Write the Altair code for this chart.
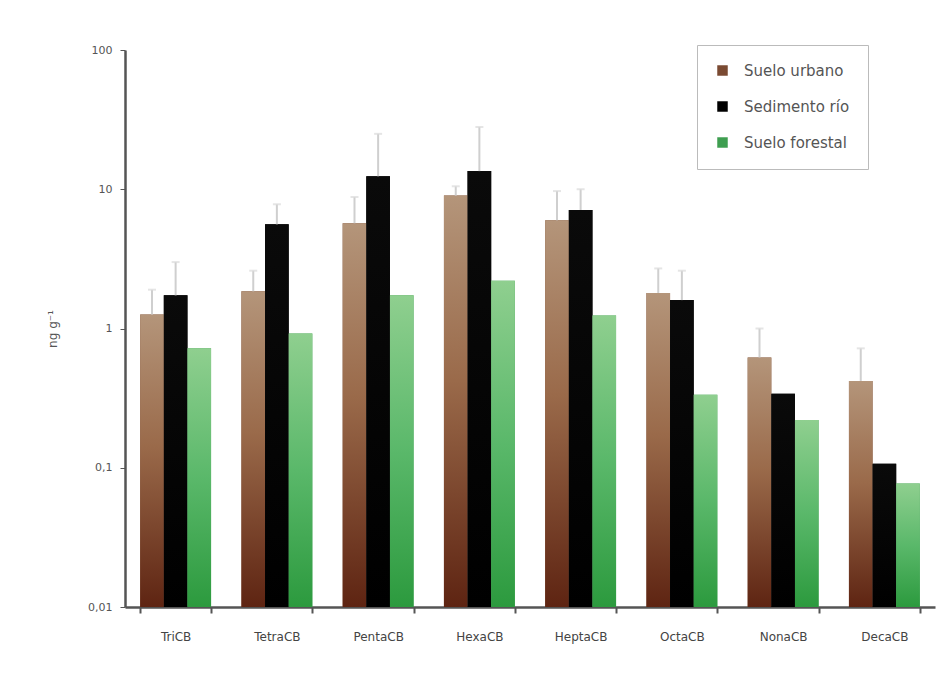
import altair as alt
import pandas as pd

categories = ["TriCB", "TetraCB", "PentaCB", "HexaCB", "HeptaCB", "OctaCB", "NonaCB", "DecaCB"]
series = ["Suelo urbano", "Sedimento río", "Suelo forestal"]
urbano = [1.26, 1.85, 5.7, 9.0, 6.0, 1.8, 0.62, 0.42]
urbano_err = [1.9, 2.6, 8.8, 10.5, 9.7, 2.7, 1.0, 0.72]
sedimento = [1.73, 5.6, 12.4, 13.5, 7.1, 1.6, 0.34, 0.107]
sedimento_err = [3.0, 7.8, 25.0, 28.0, 10.0, 2.6, 0.34, 0.107]
forestal = [0.72, 0.92, 1.73, 2.2, 1.24, 0.335, 0.22, 0.077]
forestal_err = [0.72, 0.92, 1.73, 2.2, 1.24, 0.335, 0.22, 0.077]

rows = []
for s, vals, errs in [(series[0], urbano, urbano_err), (series[1], sedimento, sedimento_err), (series[2], forestal, forestal_err)]:
    for c, v, e in zip(categories, vals, errs):
        rows.append({"cat": c, "serie": s, "valor": v, "err": e})
df = pd.DataFrame(rows)

x_enc = alt.X("cat:N", sort=categories, title=None,
              scale=alt.Scale(paddingInner=0.3, paddingOuter=0.15),
              axis=alt.Axis(labelAngle=0, tickBand="extent", labelPadding=18, tickSize=6,
                            labelFontSize=12, labelColor="#444", domainColor="#555",
                            domainWidth=2.5, tickColor="#555", tickWidth=2, grid=False))
xoff = alt.XOffset("serie:N", sort=series, scale=alt.Scale(domain=series))
y_enc = alt.Y("valor:Q", title="ng g⁻¹",
              scale=alt.Scale(type="log", domain=[0.01, 100]),
              axis=alt.Axis(values=[0.01, 0.1, 1, 10, 100], grid=False,
                            labelExpr="replace(format(datum.value, '~g'), '.', ',')",
                            labelFontSize=11, labelColor="#555", titleFontSize=12,
                            titleColor="#555", titleFontWeight="normal", titlePadding=28,
                            domainColor="#555", domainWidth=2.5, tickColor="#555",
                            tickSize=5, labelPadding=8))
y2_base = alt.Y2(datum=0.01)

base = alt.Chart(df)

solid = base.mark_bar().encode(
    x=x_enc, xOffset=xoff, y=y_enc, y2=y2_base,
    color=alt.Color("serie:N", sort=series,
                    scale=alt.Scale(domain=series, range=["#7a4a32", "#000000", "#3e9e50"]),
                    legend=alt.Legend(title=None, orient="none", legendX=572, legendY=-5,
                                      symbolType="square", symbolSize=110,
                                      labelFontSize=15, labelColor="#555",
                                      rowPadding=20, padding=18, strokeColor="#bbb",
                                      fillColor="white", labelOffset=14))
)

grad_brown = alt.Gradient(gradient="linear", x1=0, x2=0, y1=0, y2=1,
                          stops=[alt.GradientStop(color="#b4957a", offset=0),
                                 alt.GradientStop(color="#9a6a4a", offset=0.45),
                                 alt.GradientStop(color="#5e2412", offset=1)])
grad_black = alt.Gradient(gradient="linear", x1=0, x2=0, y1=0, y2=1,
                          stops=[alt.GradientStop(color="#0a0a0a", offset=0),
                                 alt.GradientStop(color="#000000", offset=1)])
grad_green = alt.Gradient(gradient="linear", x1=0, x2=0, y1=0, y2=1,
                          stops=[alt.GradientStop(color="#8fcf8f", offset=0),
                                 alt.GradientStop(color="#5ab86a", offset=0.5),
                                 alt.GradientStop(color="#2c9a3e", offset=1)])

layers = [solid]
for s, g in zip(series, [grad_brown, grad_black, grad_green]):
    layers.append(
        base.transform_filter(alt.datum.serie == s).mark_bar(color=g).encode(
            x=x_enc, xOffset=xoff, y=y_enc, y2=y2_base)
    )

err_rule = base.transform_filter("datum.err > datum.valor").mark_rule(color="#cfcfcf", strokeWidth=2).encode(
    x=x_enc, xOffset=xoff, y=alt.Y("valor:Q"), y2=alt.Y2("err:Q"))
err_cap = base.transform_filter("datum.err > datum.valor").mark_tick(color="#dadada", thickness=2, size=8).encode(
    x=x_enc, xOffset=xoff, y=alt.Y("err:Q"))

chart = alt.layer(*layers, err_rule, err_cap).properties(
    width=810, height=557,
    autosize=alt.AutoSizeParams(type="none"),
    padding={"left": 125, "top": 50, "right": 5, "bottom": 75},
).configure(
    font="DejaVu Sans", background="white"
).configure_view(stroke=None, strokeWidth=0)

chart.save("out.html", embed_options={"renderer": "svg", "actions": False})
